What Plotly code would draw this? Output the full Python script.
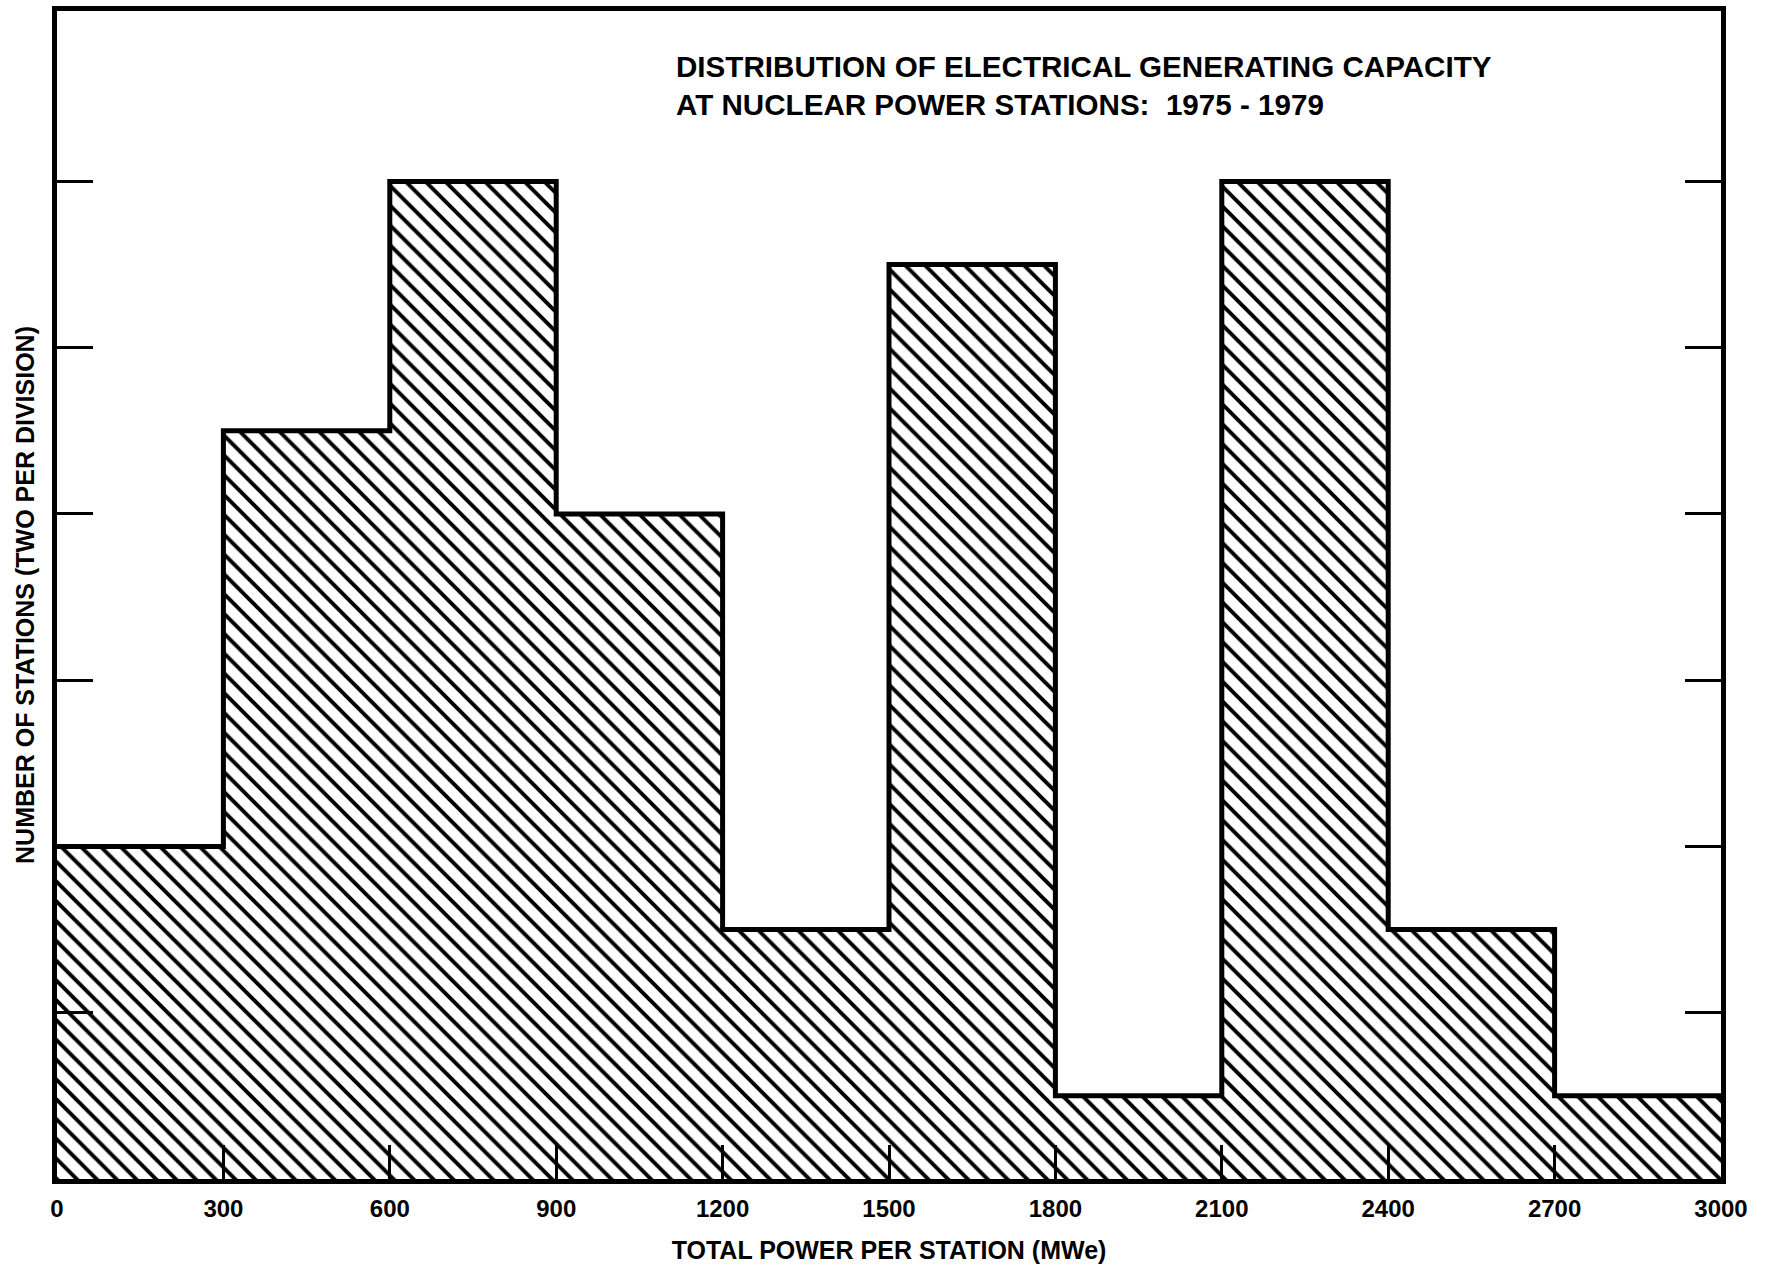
import plotly.graph_objects as go

# Data
bin_edges = [0, 300, 600, 900, 1200, 1500, 1800, 2100, 2400, 2700, 3000]
station_counts = [4, 9, 12, 8, 3, 11, 1, 12, 3, 1]
x_tick_vals = [0, 300, 600, 900, 1200, 1500, 1800, 2100, 2400, 2700, 3000]
x_tick_text = ["0", "300", "600", "900", "1200", "1500", "1800", "2100", "2400", "2700", "3000"]
y_tick_vals = [2, 4, 6, 8, 10, 12]

title_text = ("DISTRIBUTION OF ELECTRICAL GENERATING CAPACITY<br>"
              "AT NUCLEAR POWER STATIONS:  1975 - 1979")

centers = [(a + b) / 2 for a, b in zip(bin_edges[:-1], bin_edges[1:])]
widths = [b - a for a, b in zip(bin_edges[:-1], bin_edges[1:])]

FONT = "Liberation Sans, Arial, sans-serif"

fig = go.Figure()
fig.add_trace(go.Bar(
    x=centers, y=station_counts, width=widths,
    marker=dict(color="white", line=dict(width=0),
                pattern=dict(shape="\\", fgcolor="black", bgcolor="white",
                             size=14, solidity=0.28, fillmode="replace")),
    showlegend=False, hoverinfo="skip",
))
# step outline envelope
fig.add_trace(go.Scatter(
    x=bin_edges, y=station_counts + [station_counts[-1]],
    mode="lines", line=dict(shape="hv", color="black", width=5),
    showlegend=False, hoverinfo="skip",
))

fig.add_annotation(
    x=0.371, y=0.968, xref="paper", yref="paper", xanchor="left", yanchor="top",
    text="<b>" + title_text + "</b>", showarrow=False, align="left",
    font=dict(family=FONT, size=29.6, color="black"),
)

fig.update_layout(
    width=1770, height=1267,
    margin=dict(l=57, r=49, t=6, b=87),
    paper_bgcolor="white", plot_bgcolor="white",
    bargap=0,
    xaxis=dict(
        range=[0, 3000], tickvals=x_tick_vals, ticktext=x_tick_text,
        ticks="inside", ticklen=34, tickwidth=3, tickcolor="black",
        showline=True, linewidth=5, linecolor="black", mirror=True,
        showgrid=False, zeroline=False,
        tickfont=dict(family=FONT, size=24, color="black", weight="bold"),
        ticklabelstandoff=4,
        title=dict(text="<b>TOTAL POWER PER STATION (MWe)</b>",
                   font=dict(family=FONT, size=25, color="black"), standoff=22),
    ),
    yaxis=dict(
        range=[0, 14.05], tickvals=y_tick_vals, showticklabels=False,
        ticks="inside", ticklen=36, tickwidth=3, tickcolor="black",
        showline=True, linewidth=5, linecolor="black", mirror="allticks",
        showgrid=False, zeroline=False,
        title=dict(text="<b>NUMBER OF STATIONS (TWO PER DIVISION)</b>",
                   font=dict(family=FONT, size=25, color="black"), standoff=12),
    ),
)

fig.write_html("out.html")
